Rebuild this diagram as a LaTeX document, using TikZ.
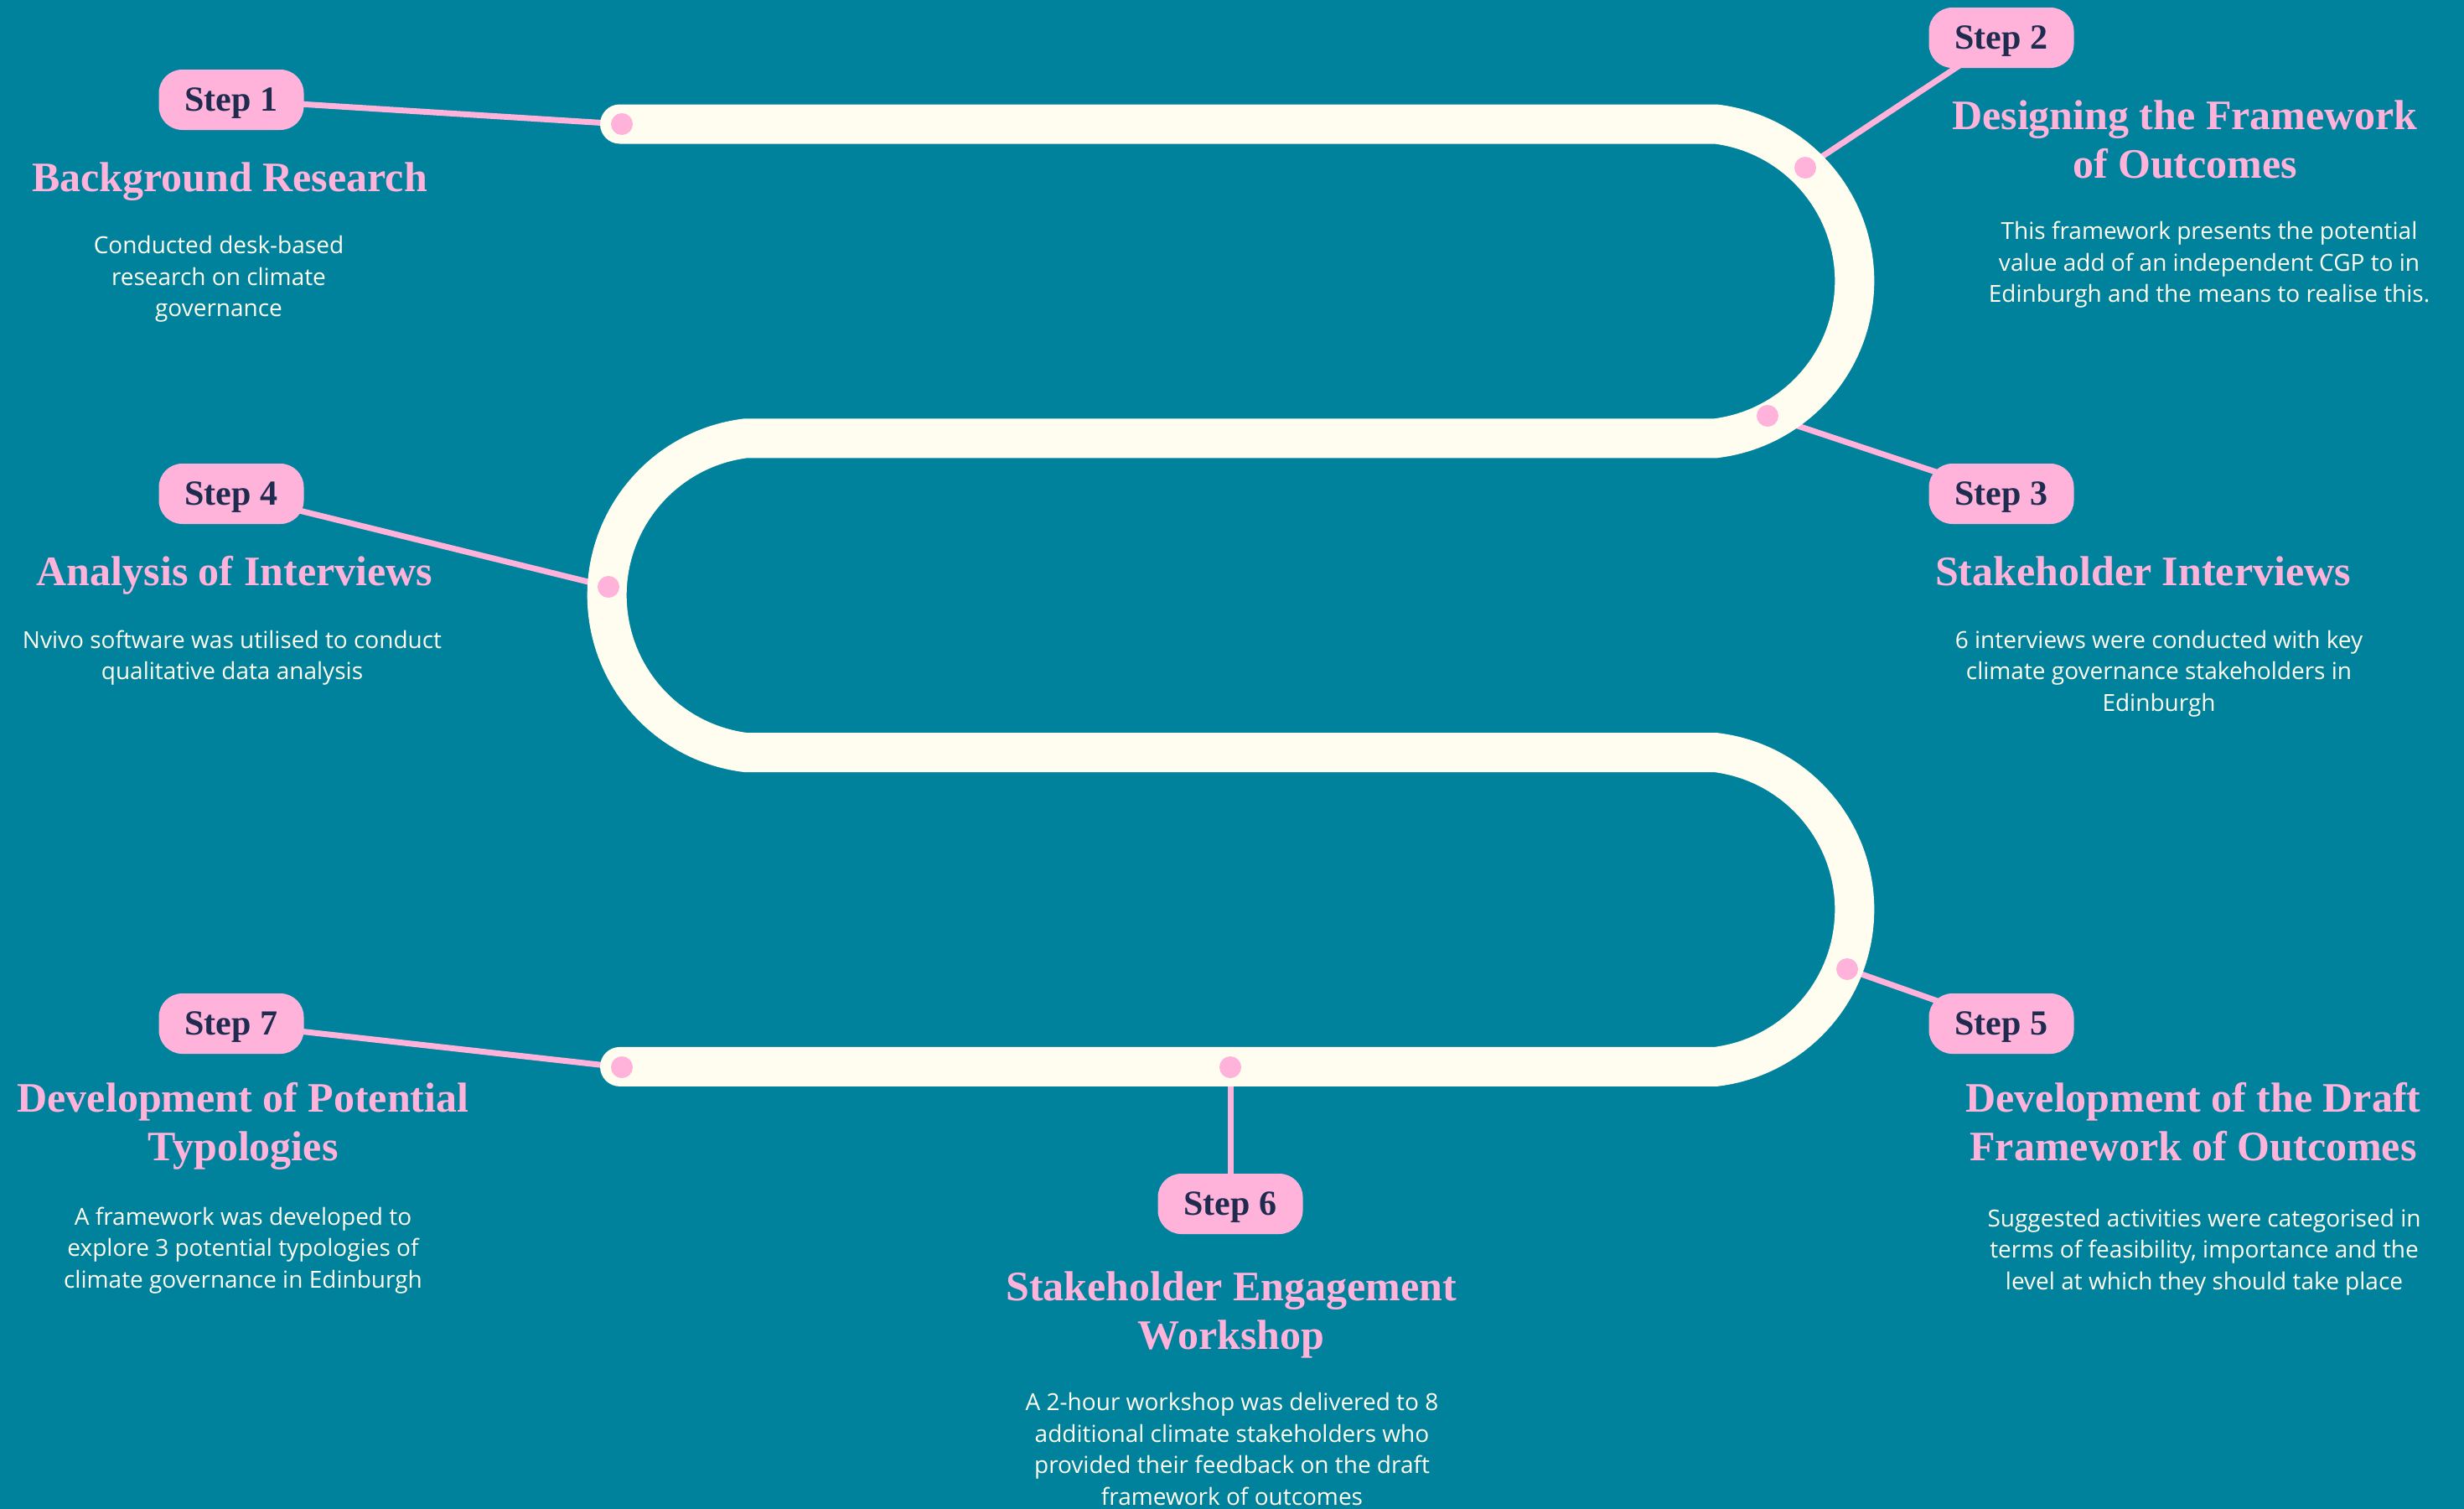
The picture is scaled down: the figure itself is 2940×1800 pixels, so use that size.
\documentclass[tikz,border=0pt]{standalone}
\usepackage{fontspec}
\setmainfont{Open Sans}
\newfontfamily\headfont{Liberation Serif}
\usetikzlibrary{backgrounds}
\definecolor{teal}{HTML}{00829C}
\definecolor{pinkc}{HTML}{FFB3DA}
\definecolor{cream}{HTML}{FFFDF0}
\definecolor{navy}{HTML}{1F2B4F}
\pgfdeclarelayer{bgl}
\pgfdeclarelayer{lines}
\pgfdeclarelayer{band}
\pgfsetlayers{bgl,lines,band,main}
\tikzset{
  stepbox/.style={fill=pinkc, rounded corners=28bp, minimum width=173bp, minimum height=72bp, inner sep=0pt, text depth=0pt, text=navy, font=\headfont\bfseries\fontsize{42bp}{42bp}\selectfont},
  dotnode/.style={circle, fill=pinkc, minimum size=26bp, inner sep=0pt},
  heading/.style={anchor=base, align=center, inner sep=0pt, text=pinkc, font=\headfont\bfseries\fontsize{50bp}{58bp}\selectfont},
  body/.style={anchor=base, align=center, inner sep=0pt, text=cream, font=\fontsize{28bp}{37.5bp}\selectfont},
  connector/.style={draw=pinkc, line width=7bp},
  bandline/.style={draw=cream, line width=47bp, line cap=round}
}
\begin{document}
\begin{tikzpicture}[x=1bp,y=-1bp]
\useasboundingbox (0,0) rectangle (2940,1800);
\begin{pgfonlayer}{bgl}
\fill[teal] (0,0) rectangle (2940,1800);
\end{pgfonlayer}

% dots
\node[dotnode] (d1) at (742,148) {};
\node[dotnode] (d2) at (2154,200) {};
\node[dotnode] (d3) at (2109,496) {};
\node[dotnode] (d4) at (726,700) {};
\node[dotnode] (d5) at (2204,1156) {};
\node[dotnode] (d6) at (1468,1273) {};
\node[dotnode] (d7) at (742,1273) {};

% step labels
\node[stepbox] (s1) at (276,119) {Step 1};
\node[stepbox] (s2) at (2388,45) {Step 2};
\node[stepbox] (s3) at (2388,589) {Step 3};
\node[stepbox] (s4) at (276,589) {Step 4};
\node[stepbox] (s5) at (2388,1221) {Step 5};
\node[stepbox] (s6) at (1468,1436) {Step 6};
\node[stepbox] (s7) at (276,1221) {Step 7};

% connectors
\begin{pgfonlayer}{lines}
\draw[connector] (s1.center) -- (d1.center);
\draw[connector] (s2.center) -- (d2.center);
\draw[connector] (s3.center) -- (d3.center);
\draw[connector] (s4.center) -- (d4.center);
\draw[connector] (s5.center) -- (d5.center);
\draw[connector] (s6.center) -- (d6.center);
\draw[connector] (s7.center) -- (d7.center);
\end{pgfonlayer}

% winding band
\begin{pgfonlayer}{band}
\draw[bandline] (739.5,148) -- (2047,148)
  arc[start angle=-83, end angle=83, radius=188.8]
  -- (890,522.8)
  arc[start angle=-97, end angle=-263, radius=188.8]
  -- (2047,897.6)
  arc[start angle=-83, end angle=83, radius=188.8]
  -- (739.5,1272.4);
\end{pgfonlayer}

% texts (anchor=base of a multi-line node is the last line's baseline)
\node[heading] (h1) at (274,228) {Background Research};
\node[body] (b1) at (261,377.5) {Conducted desk-based\\research on climate\\governance};

\node[heading] (h2) at (2607,212.9) {Designing the Framework\\of Outcomes};
\node[body] (b2) at (2636,360.6) {This framework presents the potential\\value add of an independent CGP to in\\Edinburgh and the means to realise this.};

\node[heading] (h3) at (2557,698.5) {Stakeholder Interviews};
\node[body] (b3) at (2576,848) {6 interviews were conducted with key\\climate governance stakeholders in\\Edinburgh};

\node[heading] (h4) at (280,698.5) {Analysis of Interviews};
\node[body] (b4) at (277,810.6) {Nvivo software was utilised to conduct\\qualitative data analysis};

\node[heading] (h5) at (2617,1384) {Development of the Draft\\Framework of Outcomes};
\node[body] (b5) at (2630,1538) {Suggested activities were categorised in\\terms of feasibility, importance and the\\level at which they should take place};

\node[heading] (h6) at (1469,1609.75) {Stakeholder Engagement\\Workshop};
\node[body] (b6) at (1470,1795) {A 2-hour workshop was delivered to 8\\additional climate stakeholders who\\provided their feedback on the draft\\framework of outcomes};

\node[heading] (h7) at (290,1384) {Development of Potential\\Typologies};
\node[body] (b7) at (290,1536) {A framework was developed to\\explore 3 potential typologies of\\climate governance in Edinburgh};
\end{tikzpicture}
\end{document}
